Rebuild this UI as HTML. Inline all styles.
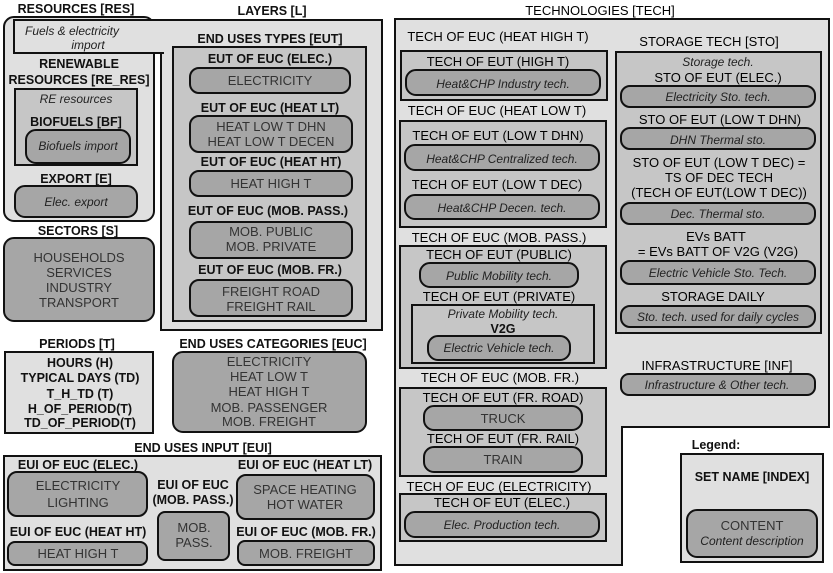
<!DOCTYPE html>
<html><head><meta charset="utf-8"><style>
html,body{margin:0;padding:0;background:#fff;width:833px;height:573px;overflow:hidden}
svg text{font-family:"Liberation Sans",sans-serif;text-anchor:middle}
.b{font-weight:bold;font-size:12.5px;fill:#111}
.r{font-size:13px;fill:#000}
.p{font-size:13px;fill:#333}
.i{font-size:12px;font-style:italic;fill:#222}
.L{fill:#e0e0e0;stroke:#111;stroke-width:2}
.M{fill:#c6c6c6;stroke:#111;stroke-width:2}
.P{fill:#a6a6a6;stroke:#111;stroke-width:2}
</style></head><body>
<svg width="833" height="573" viewBox="0 0 833 573">
<!-- LEFT -->
<text class="b" x="76" y="13">RESOURCES [RES]</text>
<text class="b" x="272" y="15">LAYERS [L]</text>
<rect class="L" x="161" y="20" width="221" height="310"/>
<rect class="L" x="4" y="17" width="150" height="204" rx="10"/>
<rect class="L" x="14" y="20" width="149" height="33"/>
<rect x="155" y="21" width="10" height="31" fill="#e0e0e0"/>
<text class="i" x="72" y="35">Fuels &amp; electricity</text>
<text class="i" x="88" y="49">import</text>
<text class="b" x="79" y="68">RENEWABLE</text>
<text class="b" x="79" y="84">RESOURCES [RE_RES]</text>
<rect class="M" x="15" y="89" width="122" height="76"/>
<text class="i" x="76" y="103">RE resources</text>
<text class="b" x="76" y="126">BIOFUELS [BF]</text>
<rect class="P" x="26" y="130" width="104" height="33" rx="10"/>
<text class="i" x="78" y="150">Biofuels import</text>
<text class="b" x="76" y="183">EXPORT [E]</text>
<rect class="P" x="15" y="186" width="122" height="31" rx="10"/>
<text class="i" x="76" y="206">Elec. export</text>
<text class="b" x="78" y="235">SECTORS [S]</text>
<rect class="P" x="4" y="238" width="150" height="83" rx="10"/>
<text class="p" x="79" y="262">HOUSEHOLDS</text>
<text class="p" x="79" y="277">SERVICES</text>
<text class="p" x="79" y="292">INDUSTRY</text>
<text class="p" x="79" y="307">TRANSPORT</text>

<text class="b" x="270" y="43">END USES TYPES [EUT]</text>
<rect class="M" x="173" y="47" width="193" height="274"/>
<text class="b" x="270" y="63">EUT OF EUC (ELEC.)</text>
<rect class="P" x="190" y="68" width="160" height="25" rx="9"/>
<text class="p" x="270" y="85">ELECTRICITY</text>
<text class="b" x="270" y="112">EUT OF EUC (HEAT LT)</text>
<rect class="P" x="190" y="116" width="162" height="36" rx="9"/>
<text class="p" x="271" y="131">HEAT LOW T DHN</text>
<text class="p" x="271" y="146">HEAT LOW T DECEN</text>
<text class="b" x="271" y="166">EUT OF EUC (HEAT HT)</text>
<rect class="P" x="190" y="171" width="162" height="25" rx="9"/>
<text class="p" x="271" y="188">HEAT HIGH T</text>
<text class="b" x="268" y="215">EUT OF EUC (MOB. PASS.)</text>
<rect class="P" x="190" y="222" width="162" height="36" rx="9"/>
<text class="p" x="271" y="236">MOB. PUBLIC</text>
<text class="p" x="271" y="251">MOB. PRIVATE</text>
<text class="b" x="270" y="274">EUT OF EUC (MOB. FR.)</text>
<rect class="P" x="190" y="280" width="162" height="36" rx="9"/>
<text class="p" x="271" y="296">FREIGHT ROAD</text>
<text class="p" x="271" y="311">FREIGHT RAIL</text>

<text class="b" x="77" y="348">PERIODS [T]</text>
<rect class="L" x="5" y="352" width="148" height="81"/>
<text class="b" x="80" y="367">HOURS (H)</text>
<text class="b" x="80" y="382">TYPICAL DAYS (TD)</text>
<text class="b" x="80" y="398">T_H_TD (T)</text>
<text class="b" x="80" y="413">H_OF_PERIOD(T)</text>
<text class="b" x="80" y="427">TD_OF_PERIOD(T)</text>
<text class="b" x="273" y="348">END USES CATEGORIES [EUC]</text>
<rect class="P" x="173" y="352" width="193" height="80" rx="10"/>
<text class="p" x="269" y="366">ELECTRICITY</text>
<text class="p" x="269" y="381">HEAT LOW T</text>
<text class="p" x="269" y="396">HEAT HIGH T</text>
<text class="p" x="269" y="412">MOB. PASSENGER</text>
<text class="p" x="269" y="426">MOB. FREIGHT</text>

<text class="b" x="203" y="452">END USES INPUT [EUI]</text>
<rect class="L" x="4" y="456" width="377" height="114"/>
<text class="b" x="78" y="469">EUI OF EUC (ELEC.)</text>
<rect class="P" x="8" y="472" width="139" height="44" rx="9"/>
<text class="p" x="78" y="490">ELECTRICITY</text>
<text class="p" x="78" y="507">LIGHTING</text>
<text class="b" x="305" y="469">EUI OF EUC (HEAT LT)</text>
<rect class="P" x="237" y="475" width="137" height="44" rx="9"/>
<text class="p" x="305" y="494">SPACE HEATING</text>
<text class="p" x="305" y="509">HOT WATER</text>
<text class="b" x="193" y="489">EUI OF EUC</text>
<text class="b" x="193" y="504">(MOB. PASS.)</text>
<rect class="P" x="158" y="512" width="71" height="48" rx="7"/>
<text class="p" x="194" y="532">MOB.</text>
<text class="p" x="194" y="547">PASS.</text>
<text class="b" x="78" y="536">EUI OF EUC (HEAT HT)</text>
<rect class="P" x="8" y="542" width="139" height="23" rx="7"/>
<text class="p" x="78" y="558">HEAT HIGH T</text>
<text class="b" x="306" y="536">EUI OF EUC (MOB. FR.)</text>
<rect class="P" x="238" y="541" width="136" height="24" rx="7"/>
<text class="p" x="306" y="558">MOB. FREIGHT</text>

<!-- TECH -->
<text class="r" x="600" y="15">TECHNOLOGIES [TECH]</text>
<polygon class="L" points="395,19 829,19 829,427 622,427 622,565 395,565"/>
<text class="r" x="498" y="41">TECH OF EUC (HEAT HIGH T)</text>
<rect class="M" x="401" y="51" width="206" height="49"/>
<text class="r" x="498" y="66">TECH OF EUT (HIGH T)</text>
<rect class="P" x="406" y="70" width="194" height="25" rx="10"/>
<text class="i" x="503" y="88">Heat&amp;CHP Industry tech.</text>
<text class="r" x="497" y="115">TECH OF EUC (HEAT LOW T)</text>
<rect class="M" x="400" y="121" width="206" height="106"/>
<text class="r" x="498" y="140">TECH OF EUT (LOW T DHN)</text>
<rect class="P" x="405" y="145" width="194" height="25" rx="10"/>
<text class="i" x="502" y="163">Heat&amp;CHP Centralized tech.</text>
<text class="r" x="497" y="189">TECH OF EUT (LOW T DEC)</text>
<rect class="P" x="405" y="195" width="194" height="24" rx="10"/>
<text class="i" x="502" y="212">Heat&amp;CHP Decen. tech.</text>
<text class="r" x="499" y="242">TECH OF EUC (MOB. PASS.)</text>
<rect class="M" x="400" y="246" width="206" height="122"/>
<text class="r" x="499" y="259">TECH OF EUT (PUBLIC)</text>
<rect class="P" x="420" y="263" width="158" height="24" rx="10"/>
<text class="i" x="499" y="280">Public Mobility tech.</text>
<text class="r" x="499" y="301">TECH OF EUT (PRIVATE)</text>
<rect class="M" x="412" y="305" width="182" height="58"/>
<text class="i" x="503" y="318">Private Mobility tech.</text>
<text class="b" x="503" y="333">V2G</text>
<rect class="P" x="428" y="336" width="142" height="24" rx="10"/>
<text class="i" x="499" y="352">Electric Vehicle tech.</text>
<text class="r" x="500" y="382">TECH OF EUC (MOB. FR.)</text>
<rect class="M" x="400" y="388" width="206" height="88"/>
<text class="r" x="503" y="402">TECH OF EUT (FR. ROAD)</text>
<rect class="P" x="424" y="406" width="158" height="24" rx="10"/>
<text class="p" x="503" y="423">TRUCK</text>
<text class="r" x="503" y="443">TECH OF EUT (FR. RAIL)</text>
<rect class="P" x="424" y="447" width="158" height="25" rx="10"/>
<text class="p" x="503" y="464">TRAIN</text>
<text class="r" x="499" y="491">TECH OF EUC (ELECTRICITY)</text>
<rect class="M" x="400" y="494" width="206" height="47"/>
<text class="r" x="502" y="507">TECH OF EUT (ELEC.)</text>
<rect class="P" x="405" y="512" width="194" height="25" rx="10"/>
<text class="i" x="502" y="529">Elec. Production tech.</text>

<text class="r" x="709" y="46">STORAGE TECH [STO]</text>
<rect class="M" x="616" y="52" width="205" height="281"/>
<text class="i" x="718" y="66">Storage tech.</text>
<text class="r" x="718" y="82">STO OF EUT (ELEC.)</text>
<rect class="P" x="621" y="86" width="194" height="21" rx="9"/>
<text class="i" x="718" y="101">Electricity Sto. tech.</text>
<text class="r" x="720" y="124">STO OF EUT (LOW T DHN)</text>
<rect class="P" x="621" y="128" width="194" height="21" rx="9"/>
<text class="i" x="718" y="144">DHN Thermal sto.</text>
<text class="r" x="719" y="167">STO OF EUT (LOW T DEC) =</text>
<text class="r" x="719" y="182">TS OF DEC TECH</text>
<text class="r" x="719" y="197">(TECH OF EUT(LOW T DEC))</text>
<rect class="P" x="621" y="203" width="194" height="21" rx="9"/>
<text class="i" x="718" y="218">Dec. Thermal sto.</text>
<text class="r" x="716" y="241">EVs BATT</text>
<text class="r" x="718" y="256">=  EVs BATT OF V2G (V2G)</text>
<rect class="P" x="621" y="261" width="194" height="23" rx="9"/>
<text class="i" x="718" y="277">Electric Vehicle Sto. Tech.</text>
<text class="r" x="713" y="301">STORAGE DAILY</text>
<rect class="P" x="621" y="306" width="194" height="21" rx="9"/>
<text class="i" x="718" y="321">Sto. tech. used for daily cycles</text>
<text class="r" x="717" y="370">INFRASTRUCTURE [INF]</text>
<rect class="P" x="621" y="374" width="194" height="21" rx="8"/>
<text class="i" x="717" y="389">Infrastructure &amp; Other tech.</text>

<text class="b" x="716" y="449">Legend:</text>
<rect class="L" x="681" y="454" width="142" height="108"/>
<text class="b" x="752" y="481">SET NAME [INDEX]</text>
<rect class="P" x="687" y="510" width="130" height="47" rx="10"/>
<text class="p" x="752" y="530">CONTENT</text>
<text class="i" x="752" y="545">Content description</text>
</svg>
</body></html>
